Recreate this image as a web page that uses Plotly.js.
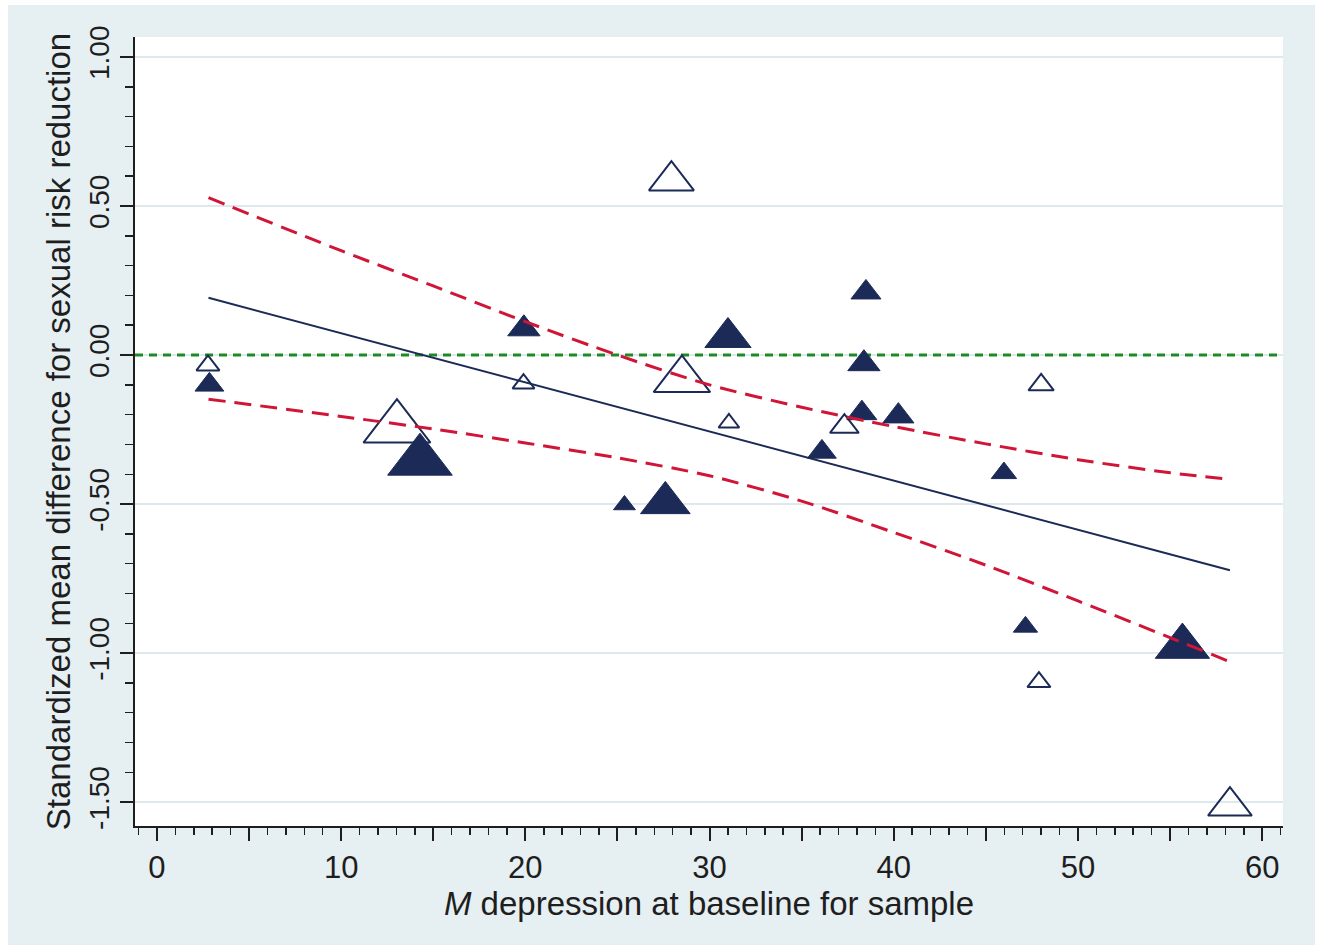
<!DOCTYPE html>
<html>
<head>
<meta charset="utf-8">
<script src="https://cdn.plot.ly/plotly-3.0.1.min.js"></script>
<style>
html, body { margin: 0; padding: 0; background: #ffffff; }
#chart { width: 1323px; height: 951px; }
</style>
</head>
<body>
<div id="chart"></div>
<script>
// ---- Data ----
// Filled triangles (study samples)
const filledX = [2.85, 14.28, 19.92, 25.38, 27.6, 31.0, 36.1, 38.27, 38.38, 38.49, 40.25, 45.98, 47.15, 55.67];
const filledY = [-0.10, -0.356, 0.088, -0.503, -0.496, 0.059, -0.325, -0.195, -0.029, 0.21, -0.205, -0.396, -0.912, -0.978];
const filledWeight = [25, 56, 28, 19, 43, 40, 25, 26, 28, 26, 27, 22, 21, 47];

// Hollow triangles
const hollowX = [2.77, 13.03, 19.9, 27.93, 28.5, 31.05, 37.32, 47.88, 48.0, 58.25];
const hollowY = [-0.035, -0.245, -0.096, 0.585, -0.083, -0.228, -0.24, -1.097, -0.10, -1.513];
const hollowWeight = [20, 58, 19, 39, 49, 18, 25, 20, 22, 38];

// Fitted line and its confidence band
const fitX = [2.8, 58.25];
const fitY = [0.192, -0.722];
const ciX = [2.8, 10, 15, 20, 25, 30, 35, 40, 45, 50, 55, 58.25];
const ciUpper = [0.528, 0.35, 0.232, 0.112, 0.0, -0.10, -0.175, -0.24, -0.298, -0.351, -0.395, -0.417];
const ciLower = [-0.148, -0.206, -0.248, -0.295, -0.345, -0.405, -0.49, -0.595, -0.705, -0.825, -0.948, -1.029];

// Reference line (no effect)
const refY = 0;

// Axis ranges and ticks
const xRange = [-1.19, 61.13];
const yRange = [-1.58, 1.067];
const xTickVals = [0, 5, 10, 15, 20, 25, 30, 35, 40, 45, 50, 55, 60];
const xTickText = ['0', '', '10', '', '20', '', '30', '', '40', '', '50', '', '60'];
const yTickVals = [-1.5, -1.0, -0.5, 0, 0.5, 1.0];
const yTickText = ['-1.50', '-1.00', '-0.50', '0.00', '0.50', '1.00'];

const xTitle = '<i>M</i> depression at baseline for sample';
const yTitle = 'Standardized mean difference for sexual risk reduction';

// ---- Styling ----
const navy = '#1b2a57';
const red = '#d01537';
const green = '#1f8a24';
const ink = '#1e1e1e';
const sizeScale = 1.0;

const traces = [
  {
    type: 'scatter', mode: 'lines', x: xRange, y: [refY, refY], hoverinfo: 'skip', cliponaxis: true,
    line: { color: green, width: 3, dash: '8px,6px' }
  },
  {
    type: 'scatter', mode: 'markers', x: hollowX, y: hollowY, hoverinfo: 'skip',
    marker: { symbol: 'triangle-up-open', opacity: 1, size: hollowWeight.map(w => w * sizeScale), color: navy, line: { width: 2, color: navy } }
  },
  {
    type: 'scatter', mode: 'markers', x: filledX, y: filledY, hoverinfo: 'skip',
    marker: { symbol: 'triangle-up', opacity: 1, size: filledWeight.map(w => w * sizeScale), color: navy, line: { width: 1, color: navy } }
  },
  {
    type: 'scatter', mode: 'lines', x: ciX, y: ciUpper, hoverinfo: 'skip',
    line: { color: red, width: 3, dash: '17px,9px', shape: 'spline', smoothing: 0.8 }
  },
  {
    type: 'scatter', mode: 'lines', x: ciX, y: ciLower, hoverinfo: 'skip',
    line: { color: red, width: 3, dash: '17px,9px', shape: 'spline', smoothing: 0.8 }
  },
  {
    type: 'scatter', mode: 'lines', x: fitX, y: fitY, hoverinfo: 'skip',
    line: { color: navy, width: 2 }
  }
];

const fontFamily = '"Liberation Sans", Arial, Helvetica, sans-serif';

const layout = {
  width: 1323, height: 951,
  margin: { l: 135, r: 40, t: 37, b: 125, pad: 0 },
  paper_bgcolor: '#ffffff',
  plot_bgcolor: '#ffffff',
  showlegend: false,
  font: { family: fontFamily, color: ink },
  xaxis: {
    range: xRange,
    automargin: false,
    tickmode: 'array', tickvals: xTickVals, ticktext: xTickText,
    ticks: 'outside', ticklen: 13, tickwidth: 2, tickcolor: ink,
    showline: true, linecolor: ink, linewidth: 2,
    showgrid: false, zeroline: false,
    tickfont: { size: 31, color: ink },
    ticklabelstandoff: 0,
    minor: { dtick: 1, tick0: 0, ticks: 'outside', ticklen: 7, tickwidth: 1.5, tickcolor: ink, showgrid: false },
    title: { text: xTitle, font: { size: 33, color: ink }, standoff: 6 }
  },
  yaxis: {
    range: yRange,
    automargin: false,
    tickmode: 'array', tickvals: yTickVals, ticktext: yTickText,
    tickangle: -90,
    ticks: 'outside', ticklen: 13, tickwidth: 2, tickcolor: ink,
    showline: true, linecolor: ink, linewidth: 2,
    showgrid: true, gridcolor: '#dfe9ed', gridwidth: 2, zeroline: false,
    tickfont: { size: 28, color: ink },
    minor: { dtick: 0.1, tick0: 0, ticks: 'outside', ticklen: 8, tickwidth: 1.5, tickcolor: ink, showgrid: false },
    title: { text: yTitle, font: { size: 33, color: ink }, standoff: 3 }
  },
  shapes: [
    { type: 'rect', xref: 'paper', yref: 'paper', x0: -0.1106, x1: 1.0279, y0: -0.1508, y1: 1.0406,
      fillcolor: '#e6eff2', line: { width: 0 }, layer: 'below' },
    { type: 'rect', xref: 'paper', yref: 'paper', x0: 0, x1: 1, y0: 0, y1: 1,
      fillcolor: '#ffffff', line: { width: 0 }, layer: 'below' }
  ]
};

Plotly.newPlot('chart', traces, layout, { displayModeBar: false, staticPlot: true });
</script>
</body>
</html>
